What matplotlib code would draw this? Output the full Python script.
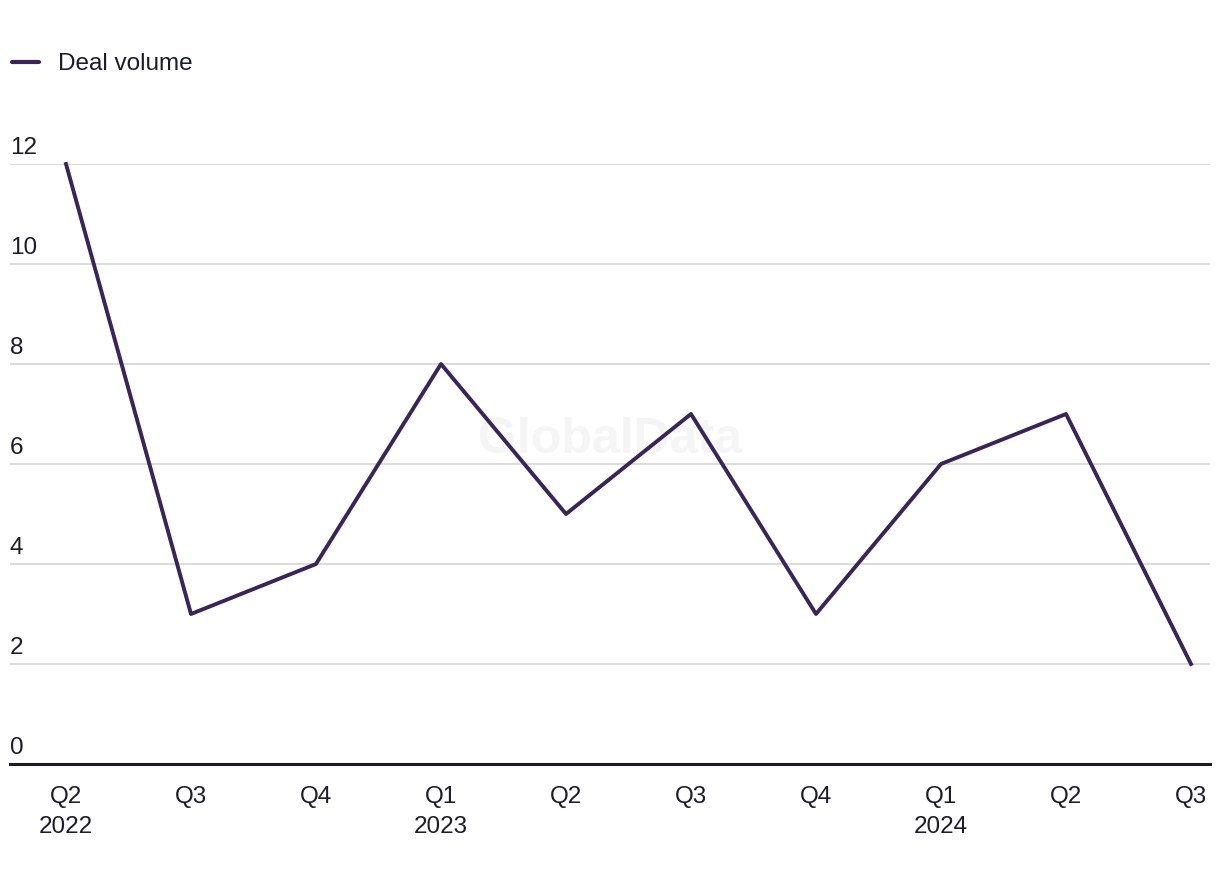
import matplotlib
matplotlib.use('Agg')
import matplotlib.pyplot as plt
from matplotlib.lines import Line2D

quarters = ["Q2\n2022", "Q3", "Q4", "Q1\n2023", "Q2", "Q3", "Q4", "Q1\n2024", "Q2", "Q3"]
deal_volume = [12, 3, 4, 8, 5, 7, 3, 6, 7, 2]
yticks = [0, 2, 4, 6, 8, 10, 12]

line_color = '#3b2458'
text_color = '#1c1c2a'
fs = 17.5
plt.rcParams['font.family'] = ['Liberation Sans', 'DejaVu Sans']

fig = plt.figure(figsize=(12.2, 8.84), dpi=100)
ax = fig.add_axes([10/1220, 1-764/884, 1200/1220, 600/884])

x = list(range(len(deal_volume)))
ax.plot(x, deal_volume, color=line_color, lw=2.8, clip_on=False, zorder=3)

ax.set_xlim(-0.448, 9.152)
ax.set_ylim(0, 12)
ax.set_yticks(yticks)
ax.set_yticklabels([])
ax.tick_params(axis='y', length=0)
ax.grid(axis='y', color='#d9d9d9', lw=1.3)
ax.set_axisbelow(True)
for yv in yticks:
    ax.text(0, yv + 0.1, str(yv), transform=ax.get_yaxis_transform(),
            ha='left', va='bottom', fontsize=fs, color=text_color)

ax.set_xticks(x)
ax.set_xticklabels(quarters, fontsize=fs, color=text_color, linespacing=1.45)
ax.tick_params(axis='x', length=0, pad=16)

for s in ['top', 'right', 'left']:
    ax.spines[s].set_visible(False)
ax.spines['bottom'].set_color(text_color)
ax.spines['bottom'].set_linewidth(2.2)

ax.text(0.5, 0.54, "GlobalData", transform=ax.transAxes, ha='center', va='center',
        fontsize=36, fontweight='bold', color='#f5f5f5', zorder=0)

handle = Line2D([], [], color=line_color, lw=3, solid_capstyle='round')
fig.legend([handle], ["Deal volume"], loc='center left', bbox_to_anchor=(12/1220, 1-64/884),
           frameon=False, fontsize=fs, handlelength=1.1, handletextpad=0.78,
           labelcolor=text_color, borderaxespad=0, borderpad=0)

fig.savefig('out.png', dpi=100)
